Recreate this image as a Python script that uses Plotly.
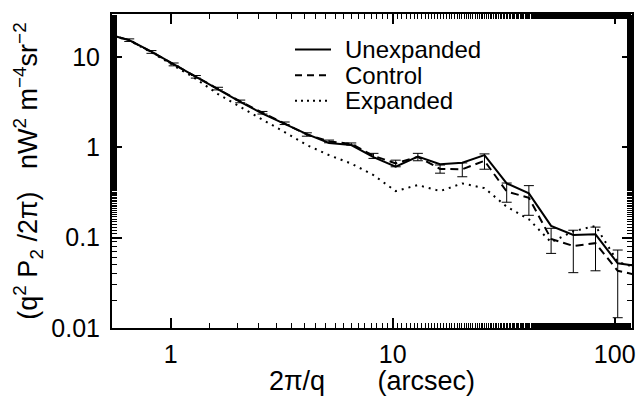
import plotly.graph_objects as go

# 2pi/q (arcsec)
scale_arcsec = [0.5172, 0.6511, 0.8197, 1.032, 1.299, 1.635, 2.059, 2.592, 3.263, 4.108,
                5.172, 6.511, 8.197, 10.32, 12.99, 16.35, 20.59, 25.92, 32.63, 41.08,
                51.72, 65.11, 81.97, 103.2, 129.9]

unexpanded = [18.0, 15.4, 11.5, 8.36, 6.0, 4.43, 3.19, 2.37, 1.81, 1.40,
              1.12, 1.06, 0.78, 0.61, 0.79, 0.65, 0.675, 0.82, 0.40, 0.31,
              0.135, 0.107, 0.109, 0.052, 0.048]

control = [18.0, 15.4, 11.4, 8.3, 6.05, 4.48, 3.23, 2.42, 1.85, 1.39,
           1.165, 1.09, 0.807, 0.666, 0.785, 0.578, 0.573, 0.71, 0.325, 0.277,
           0.097, 0.081, 0.087, 0.043, 0.038]

control_err = [0.6, 0.5, 0.4, 0.3, 0.2, 0.15, 0.11, 0.08, 0.06, 0.06,
               0.04, 0.03, 0.052, 0.056, 0.074, 0.06, 0.10, 0.137, 0.078, 0.10,
               0.030, 0.040, 0.044, 0.030, 0.0]

expanded = [17.8, 15.3, 11.3, 8.1, 5.75, 3.89, 2.79, 2.03, 1.476, 1.06,
            0.82, 0.662, 0.493, 0.328, 0.383, 0.328, 0.399, 0.354, 0.22, 0.16,
            0.089, 0.118, 0.135, 0.054, 0.045]

series_names = ["Unexpanded", "Control", "Expanded"]
series_dash = ["solid", "8px,5px", "2px,5px"]
legend_dash = ["solid", "7px,5px", "2px,4px"]

FONT = "Liberation Sans, Arial, Helvetica, sans-serif"

W, H = 643, 396
ML, MR, MT, MB = 112, 11, 14, 68
PW, PH = W - ML - MR, H - MT - MB


def px_x(px):
    return (px - ML) / PW


def px_y(py):
    return (H - MB - py) / PH


fig = go.Figure()
fig.add_trace(go.Scatter(x=scale_arcsec, y=unexpanded, mode="lines", name=series_names[0],
                         line=dict(color="black", width=2, dash=series_dash[0])))
fig.add_trace(go.Scatter(x=scale_arcsec, y=control, mode="lines", name=series_names[1],
                         line=dict(color="black", width=2, dash=series_dash[1]),
                         error_y=dict(type="data", array=control_err, color="black",
                                      thickness=1, width=5)))
fig.add_trace(go.Scatter(x=scale_arcsec, y=expanded, mode="lines", name=series_names[2],
                         line=dict(color="black", width=2, dash=series_dash[2])))

axis_common = dict(
    showline=True, linecolor="black", linewidth=2, mirror="allticks",
    ticks="inside", ticklen=10, tickwidth=1.5, tickcolor="black",
    showgrid=False, zeroline=False, automargin=False,
    tickfont=dict(family=FONT, size=25, color="black"),
    minor=dict(ticks="inside", ticklen=5, tickwidth=1.2, tickcolor="black", showgrid=False),
)

fig.update_xaxes(type="log", range=[-0.264, 2.078],
                 tickvals=[1, 10, 100], ticktext=["1", "10", "100"],
                 ticklabelstandoff=3,
                 title=dict(text="2π/q       (arcsec)", font=dict(family=FONT, size=27, color="black"),
                            standoff=3),
                 **axis_common)
fig.update_yaxes(type="log", range=[-2, 1.477],
                 tickvals=[0.01, 0.1, 1, 10], ticktext=["0.01", "0.1", "1", "10"],
                 ticklabelstandoff=5,
                 title=dict(text="(q<sup>2</sup> P<sub>2</sub> /2π)   nW<sup>2</sup> m<sup>−4</sup>sr<sup>−2</sup>",
                            font=dict(family=FONT, size=27, color="black"), standoff=6),
                 **axis_common)

# legend (drawn as layout shapes + annotations to match the original spacing)
legend_rows_y = [49.5, 75.3, 100.8]
shapes = []
annotations = []
for name, dash, ry in zip(series_names, legend_dash, legend_rows_y):
    shapes.append(dict(type="line", xref="paper", yref="paper",
                       x0=px_x(295), x1=px_x(331), y0=px_y(ry), y1=px_y(ry),
                       line=dict(color="black", width=2, dash=dash)))
    annotations.append(dict(xref="paper", yref="paper", x=px_x(343), y=px_y(ry),
                            xanchor="left", yanchor="middle", showarrow=False, text=name,
                            font=dict(family=FONT, size=24, color="black")))

fig.update_layout(
    width=W, height=H,
    margin=dict(l=ML, r=MR, t=MT, b=MB),
    paper_bgcolor="white", plot_bgcolor="white",
    showlegend=False,
    shapes=shapes,
    annotations=annotations,
)

fig.write_html("out.html")
